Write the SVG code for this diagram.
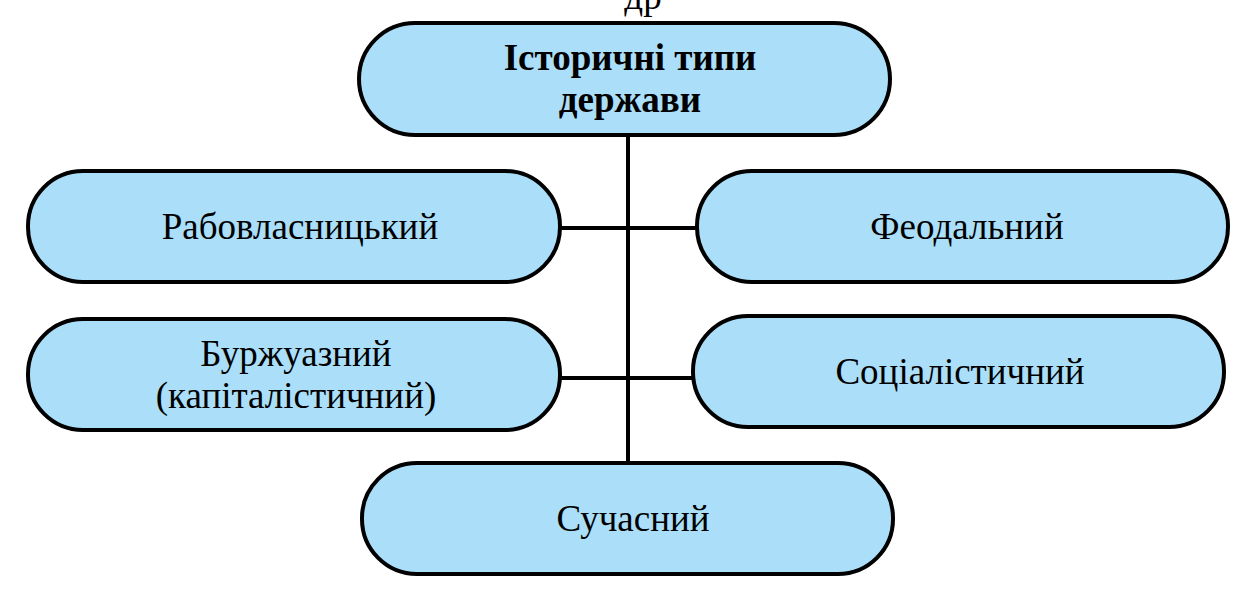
<svg xmlns="http://www.w3.org/2000/svg" width="1248" height="589" viewBox="0 0 1248 589">
<style>
.n{fill:#aadef9;stroke:#000;stroke-width:4}
.t{font-family:'Liberation Serif','Times New Roman','DejaVu Serif',serif;font-size:37px;text-anchor:middle;fill:#000}
.c{stroke:#000;stroke-width:4;fill:none}
</style>
<rect width="1248" height="589" fill="#fff"/>
<text class="t" x="643" y="9">др</text>
<g id="connectors">
<line class="c" x1="628" y1="135" x2="628" y2="467"/>
<line class="c" x1="560" y1="228" x2="697" y2="228"/>
<line class="c" x1="560" y1="378" x2="693" y2="378"/>
</g>
<g id="top"><rect class="n" x="359" y="23" width="531" height="112" rx="56"/>
<text class="t" x="630" y="70" font-weight="bold">Історичні типи</text><text class="t" x="630" y="112" font-weight="bold">держави</text></g>
<g id="slave"><rect class="n" x="28" y="171" width="532" height="111" rx="55"/>
<text class="t" x="300" y="239">Рабовласницький</text></g>
<g id="feudal"><rect class="n" x="697" y="171" width="531" height="111" rx="55"/>
<text class="t" x="967" y="239">Феодальний</text></g>
<g id="bourgeois"><rect class="n" x="28" y="319" width="532" height="111" rx="55"/>
<text class="t" x="296" y="366">Буржуазний</text><text class="t" x="296" y="408">(капіталістичний)</text></g>
<g id="socialist"><rect class="n" x="693" y="316" width="531" height="111" rx="55"/>
<text class="t" x="960" y="384">Соціалістичний</text></g>
<g id="modern"><rect class="n" x="362" y="463" width="531" height="111" rx="55"/>
<text class="t" x="633" y="531">Сучасний</text></g>
</svg>
